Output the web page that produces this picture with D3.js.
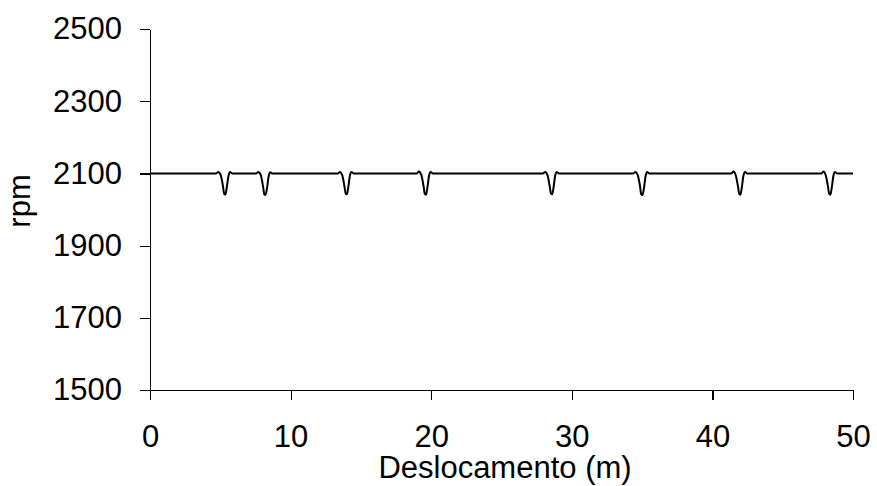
<!DOCTYPE html>
<html>
<head>
<meta charset="utf-8">
<script src="https://cdn.jsdelivr.net/npm/d3@7"></script>
<style>
  body { margin: 0; background: #fff; }
  svg { display: block; font-family: "Liberation Sans", Arial, sans-serif; }
</style>
</head>
<body>
<svg id="svg"></svg>
<script>
// displacement (m) and engine speed (rpm)
const dispX = [
    0,
    4.72, 4.85, 5.03, 5.19, 5.28, 5.36, 5.45, 5.58, 5.69, 5.83,
    7.57, 7.70, 7.88, 8.04, 8.13, 8.21, 8.31, 8.44, 8.55, 8.70,
    13.37, 13.50, 13.67, 13.83, 13.92, 14.00, 14.09, 14.22, 14.33, 14.47,
    18.98, 19.12, 19.30, 19.46, 19.55, 19.63, 19.72, 19.85, 19.96, 20.10,
    27.97, 28.10, 28.27, 28.43, 28.52, 28.60, 28.69, 28.82, 28.93, 29.07,
    34.39, 34.52, 34.69, 34.85, 34.94, 35.02, 35.12, 35.25, 35.36, 35.50,
    41.36, 41.49, 41.66, 41.82, 41.91, 41.99, 42.08, 42.21, 42.32, 42.46,
    47.76, 47.89, 48.06, 48.22, 48.31, 48.39, 48.48, 48.61, 48.72, 48.86,
    50
];
const rpmValues = [
    2100,
    2100, 2104, 2095, 2065, 2043, 2041, 2058, 2093, 2104, 2100,
    2100, 2104, 2095, 2064, 2042, 2040, 2056, 2092, 2103, 2100,
    2100, 2104, 2095, 2064, 2044, 2042, 2058, 2094, 2104, 2100,
    2100, 2105, 2095, 2064, 2043, 2041, 2058, 2094, 2104, 2100,
    2100, 2104, 2095, 2064, 2044, 2042, 2058, 2094, 2104, 2100,
    2100, 2104, 2095, 2065, 2042, 2040, 2056, 2093, 2104, 2100,
    2100, 2105, 2095, 2064, 2043, 2041, 2058, 2094, 2104, 2100,
    2100, 2105, 2095, 2064, 2043, 2041, 2058, 2094, 2104, 2100,
    2100
];
const xTicks = [0, 10, 20, 30, 40, 50];
const yTicks = [1500, 1700, 1900, 2100, 2300, 2500];

const width = 877;
const height = 486;
const fontSize = "31px";

let svg = d3.select("#svg")
    .attr("width", width)
    .attr("height", height);

const margin = { top: 29, right: 24, bottom: 96, left: 150 };
let chartWidth = width - margin.left - margin.right;
let chartHeight = height - margin.top - margin.bottom;

let chart = svg.append("g")
    .attr("transform", "translate(" + margin.left + "," + margin.top + ")");

let xScale = d3.scaleLinear()
    .domain([0, 50])
    .range([0, chartWidth]);

let yScale = d3.scaleLinear()
    .domain([1500, 2500])
    .range([chartHeight, 0]);

// x axis
chart.append("g")
    .attr("class", "x-axis")
    .attr("transform", `translate(0,${chartHeight})`)
    .call(d3.axisBottom(xScale).tickValues(xTicks).tickFormat(d3.format("d"))
        .tickSize(10).tickPadding(25).tickSizeOuter(0));

// y axis
chart.append("g")
    .attr("class", "y-axis")
    .call(d3.axisLeft(yScale).tickValues(yTicks).tickFormat(d3.format("d"))
        .tickSize(10).tickPadding(18).tickSizeOuter(0));

svg.selectAll(".x-axis path, .y-axis path, .tick line")
    .attr("stroke", "#000")
    .attr("stroke-width", 1.2)
    .attr("shape-rendering", "crispEdges");

svg.selectAll(".tick text")
    .style("font-size", fontSize)
    .style("font-family", "'Liberation Sans', Arial, sans-serif")
    .attr("fill", "#000");

// the rpm trace
let points = dispX.map((d, i) => ({ x: d, y: rpmValues[i] }));

let line = d3.line()
    .x(d => xScale(d.x))
    .y(d => yScale(d.y))
    .curve(d3.curveMonotoneX);

chart.append("path")
    .datum(points)
    .attr("fill", "none")
    .attr("stroke", "#000")
    .attr("stroke-width", 2)
    .attr("stroke-linejoin", "round")
    .attr("d", line);

// axis titles
svg.append("text")
    .attr("x", 505)
    .attr("y", 478)
    .attr("text-anchor", "middle")
    .style("font-size", fontSize)
    .text("Deslocamento (m)");

svg.append("text")
    .attr("transform", "translate(30,201) rotate(-90)")
    .attr("text-anchor", "middle")
    .style("font-size", fontSize)
    .text("rpm");
</script>
</body>
</html>
